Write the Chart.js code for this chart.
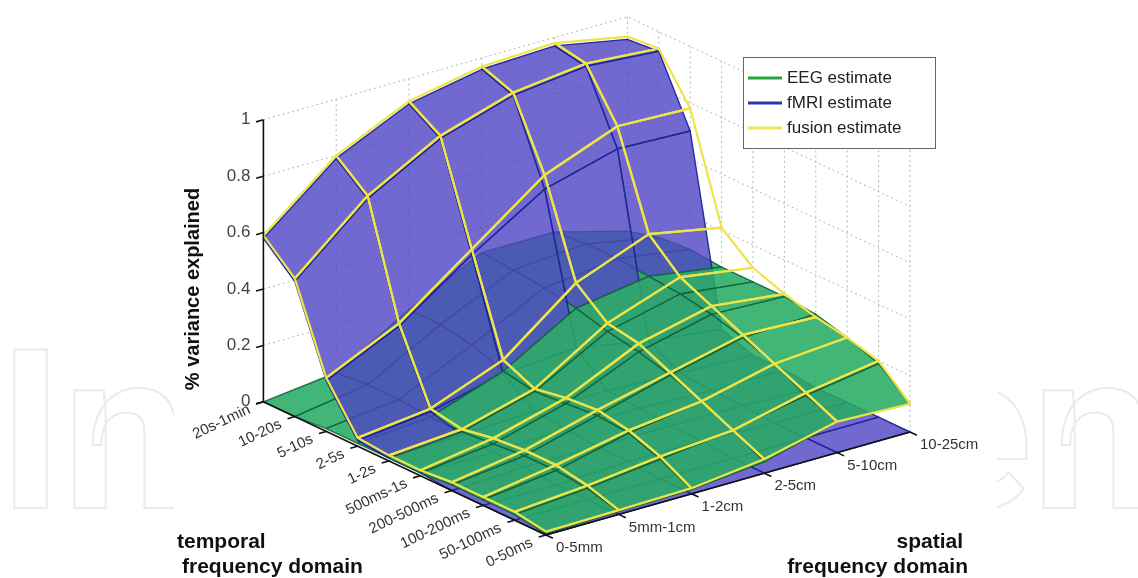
<!DOCTYPE html>
<html>
<head>
<meta charset="utf-8">
<script src="https://cdn.jsdelivr.net/npm/chart.js@4.4.1/dist/chart.umd.min.js"></script>
<style>
  html, body { margin: 0; padding: 0; background: #fff; }
  #wrap { width: 1138px; height: 578px; }
</style>
</head>
<body>
<div id="wrap"><canvas id="chart" width="1138" height="578"></canvas></div>
<script>
// categories (rows of the value tables follow temporalLabels, columns follow spatialLabels)
const temporalLabels = ['0-50ms', '50-100ms', '100-200ms', '200-500ms', '500ms-1s', '1-2s', '2-5s', '5-10s', '10-20s', '20s-1min'];
const spatialLabels = ['0-5mm', '5mm-1cm', '1-2cm', '2-5cm', '5-10cm', '10-25cm'];
const zTicks = [0, 0.2, 0.4, 0.6, 0.8, 1];
const zTickLabels = ['0', '0.2', '0.4', '0.6', '0.8', '1'];
const legendLabels = ['EEG estimate', 'fMRI estimate', 'fusion estimate'];

const eegValues = [
  [0.005, 0.01, 0.015, 0.04, 0.11, 0.10],
  [0.02, 0.04, 0.07, 0.10, 0.15, 0.19],
  [0.02, 0.05, 0.11, 0.15, 0.21, 0.23],
  [0.02, 0.05, 0.12, 0.19, 0.25, 0.26],
  [0.01, 0.04, 0.11, 0.22, 0.28, 0.27],
  [0.01, 0.03, 0.10, 0.24, 0.30, 0.27],
  [0.01, 0.03, 0.12, 0.27, 0.31, 0.27],
  [0.01, 0.04, 0.16, 0.29, 0.32, 0.28],
  [0.00, 0.04, 0.18, 0.30, 0.32, 0.27],
  [0.00, 0.03, 0.18, 0.31, 0.31, 0.24],
];

const fmriValues = [
  [0.00, 0.00, 0.00, 0.00, 0.00, 0.00],
  [0.00, 0.00, 0.00, 0.00, 0.00, 0.00],
  [0.00, 0.00, 0.01, 0.01, 0.00, 0.00],
  [0.00, 0.01, 0.01, 0.01, 0.01, 0.00],
  [0.01, 0.01, 0.02, 0.02, 0.01, 0.01],
  [0.01, 0.02, 0.03, 0.03, 0.02, 0.01],
  [0.02, 0.05, 0.11, 0.13, 0.08, 0.05],
  [0.18, 0.30, 0.48, 0.64, 0.71, 0.70],
  [0.48, 0.70, 0.84, 0.92, 0.95, 0.93],
  [0.58, 0.79, 0.91, 0.96, 0.97, 0.92],
];

const fusionValues = [
  [0.012, 0.015, 0.02, 0.05, 0.11, 0.10],
  [0.03, 0.05, 0.08, 0.10, 0.16, 0.20],
  [0.03, 0.07, 0.12, 0.15, 0.21, 0.23],
  [0.03, 0.07, 0.14, 0.20, 0.26, 0.25],
  [0.02, 0.06, 0.13, 0.25, 0.31, 0.28],
  [0.02, 0.04, 0.11, 0.27, 0.36, 0.32],
  [0.03, 0.06, 0.16, 0.36, 0.46, 0.41],
  [0.19, 0.31, 0.50, 0.69, 0.79, 0.78],
  [0.49, 0.71, 0.85, 0.93, 0.96, 0.94],
  [0.59, 0.80, 0.92, 0.97, 0.98, 0.93],
];

const W = 1138, H = 578;
const FONT = "'Liberation Sans', Arial, sans-serif";

// fixed orthographic view (azimuth / elevation of the original figure)
const VIEW = { ox: 546, oy: 535, siDx: 72.8, siDy: -20.6, tiDx: -31.4, tiDy: -14.8, zUnit: 282 };
const DEPTH = { si: -52.4, ti: -37.8, z: 110.6 };

const nT = temporalLabels.length;
const nS = spatialLabels.length;
const backT = nT - 1;
const sideS = nS - 1;

function project(ti, si, z) {
  return {
    x: VIEW.ox + VIEW.siDx * si + VIEW.tiDx * ti,
    y: VIEW.oy + VIEW.siDy * si + VIEW.tiDy * ti - VIEW.zUnit * z,
  };
}

const datasets = [];
function lineSet(points, opts) {
  datasets.push(Object.assign({
    data: points, fill: false, pointRadius: 0, borderWidth: 1, tension: 0,
    borderJoinStyle: 'round', order: 0,
  }, opts));
}

// dotted grid on the two back walls and the floor
const gridStyle = { borderColor: '#b5b5b5', borderDash: [2, 3], borderWidth: 1, order: 1e6 };
for (let si = 1; si < nS; si++) lineSet([project(backT, si, 0), project(backT, si, 1)], gridStyle);
for (let ti = 0; ti < nT - 1; ti++) lineSet([project(ti, sideS, 0), project(ti, sideS, 1)], gridStyle);
zTicks.slice(1).forEach((z) => {
  lineSet([project(backT, 0, z), project(backT, sideS, z), project(0, sideS, z)], gridStyle);
});
for (let ti = 0; ti < nT - 1; ti++) lineSet([project(ti, 0, 0), project(ti, sideS, 0)], gridStyle);
for (let si = 1; si < nS; si++) lineSet([project(0, si, 0), project(backT, si, 0)], gridStyle);

// one closed polygon per surface cell, painter-sorted by depth
function addSurface(values, face, edge, width, bias) {
  for (let ti = 0; ti < nT - 1; ti++) {
    for (let si = 0; si < nS - 1; si++) {
      const corners = [[ti, si], [ti, si + 1], [ti + 1, si + 1], [ti + 1, si]];
      const pts = corners.map(([t, s]) => project(t, s, values[t][s]));
      pts.push(pts[0]);
      const zMean = corners.reduce((a, [t, s]) => a + values[t][s], 0) / 4;
      const near = DEPTH.si * (si + 0.5) + DEPTH.ti * (ti + 0.5) + DEPTH.z * zMean;
      lineSet(pts, {
        fill: face ? 'shape' : false,
        backgroundColor: face || 'rgba(0,0,0,0)',
        borderColor: edge,
        borderWidth: width,
        order: -near + bias,
      });
    }
  }
}

addSurface(eegValues, 'rgba(40,172,100,0.88)', 'rgba(15,95,50,0.85)', 1.4, 0);
addSurface(fmriValues, 'rgba(78,68,195,0.8)', 'rgba(28,38,150,0.95)', 1.4, 0);
addSurface(fusionValues, null, 'rgb(238,228,72)', 2.2, -1e5);

// axes and tick marks
const axisStyle = { borderColor: '#111', borderWidth: 1.6, order: -2e5 };
lineSet([project(backT, 0, 0), project(backT, 0, 1)], axisStyle);
lineSet([project(0, 0, 0), project(backT, 0, 0)], axisStyle);
lineSet([project(0, 0, 0), project(0, sideS, 0)], axisStyle);
zTicks.forEach((z) => lineSet([project(backT, 0, z), project(backT, -0.1, z)], axisStyle));
for (let ti = 0; ti < nT; ti++) lineSet([project(ti, 0, 0), project(ti, -0.1, 0)], axisStyle);
for (let si = 0; si < nS; si++) lineSet([project(0, si, 0), project(-0.22, si, 0)], axisStyle);

const decor = {
  id: 'decor',
  beforeDraw(chart) {
    const ctx = chart.ctx;
    ctx.save();
    ctx.beginPath();
    ctx.rect(0, 0, 174, H);
    ctx.rect(997, 0, W - 997, H);
    ctx.clip();
    ctx.font = 'bold 222px Roboto';
    ctx.strokeStyle = '#ebebeb';
    ctx.lineWidth = 2;
    ctx.textBaseline = 'alphabetic';
    ctx.strokeText('In', -2, 508);
    ctx.strokeText('en', 912, 508);
    ctx.restore();
  },
  afterDraw(chart) {
    const ctx = chart.ctx;
    const sx = chart.scales.x, sy = chart.scales.y;
    const px = (p) => ({ x: sx.getPixelForValue(p.x), y: sy.getPixelForValue(p.y) });
    ctx.save();

    // z ticks
    ctx.fillStyle = '#444';
    ctx.font = `17px ${FONT}`;
    ctx.textAlign = 'right';
    ctx.textBaseline = 'middle';
    zTicks.forEach((z, i) => {
      const p = px(project(backT, 0, z));
      ctx.fillText(zTickLabels[i], p.x - 13, p.y);
    });

    // temporal ticks (slanted)
    ctx.fillStyle = '#333';
    ctx.font = `15px ${FONT}`;
    temporalLabels.forEach((lab, ti) => {
      const p = px(project(ti, 0, 0));
      ctx.save();
      ctx.translate(p.x - 14, p.y + 7);
      ctx.rotate(-25.5 * Math.PI / 180);
      ctx.textAlign = 'right';
      ctx.fillText(lab, 0, 0);
      ctx.restore();
    });

    // spatial ticks
    ctx.textAlign = 'left';
    spatialLabels.forEach((lab, si) => {
      const p = px(project(0, si, 0));
      ctx.fillText(lab, p.x + 10, p.y + 13);
    });

    // titles
    ctx.fillStyle = '#111';
    ctx.font = `bold 20px ${FONT}`;
    ctx.save();
    ctx.translate(193, 289);
    ctx.rotate(-Math.PI / 2);
    ctx.textAlign = 'center';
    ctx.fillText('% variance explained', 0, 0);
    ctx.restore();
    ctx.font = `bold 21px ${FONT}`;
    ctx.textAlign = 'left';
    ctx.fillText('temporal', 177, 542);
    ctx.fillText('frequency domain', 182, 567);
    ctx.textAlign = 'right';
    ctx.fillText('spatial', 963, 542);
    ctx.fillText('frequency domain', 968, 567);

    // legend
    const box = { x: 743, y: 57, w: 192, h: 91 };
    ctx.fillStyle = '#fff';
    ctx.fillRect(box.x, box.y, box.w, box.h);
    ctx.strokeStyle = '#666';
    ctx.lineWidth = 1;
    ctx.strokeRect(box.x + 0.5, box.y + 0.5, box.w, box.h);
    const swatch = ['rgb(40,165,60)', 'rgb(40,55,175)', 'rgb(240,230,90)'];
    ctx.font = `17px ${FONT}`;
    ctx.textAlign = 'left';
    legendLabels.forEach((lab, i) => {
      const y = box.y + 21 + i * 25;
      ctx.strokeStyle = swatch[i];
      ctx.lineWidth = 3;
      ctx.beginPath();
      ctx.moveTo(box.x + 5, y);
      ctx.lineTo(box.x + 39, y);
      ctx.stroke();
      ctx.fillStyle = '#222';
      ctx.fillText(lab, box.x + 44, y);
    });
    ctx.restore();
  },
};

new Chart(document.getElementById('chart'), {
  type: 'line',
  data: { datasets },
  options: {
    responsive: false,
    animation: false,
    events: [],
    devicePixelRatio: 1,
    layout: { padding: 0 },
    scales: {
      x: { type: 'linear', min: 0, max: W, display: false },
      y: { type: 'linear', min: 0, max: H, reverse: true, display: false },
    },
    plugins: { legend: { display: false }, tooltip: { enabled: false } },
  },
  plugins: [decor],
});
</script>
</body>
</html>
